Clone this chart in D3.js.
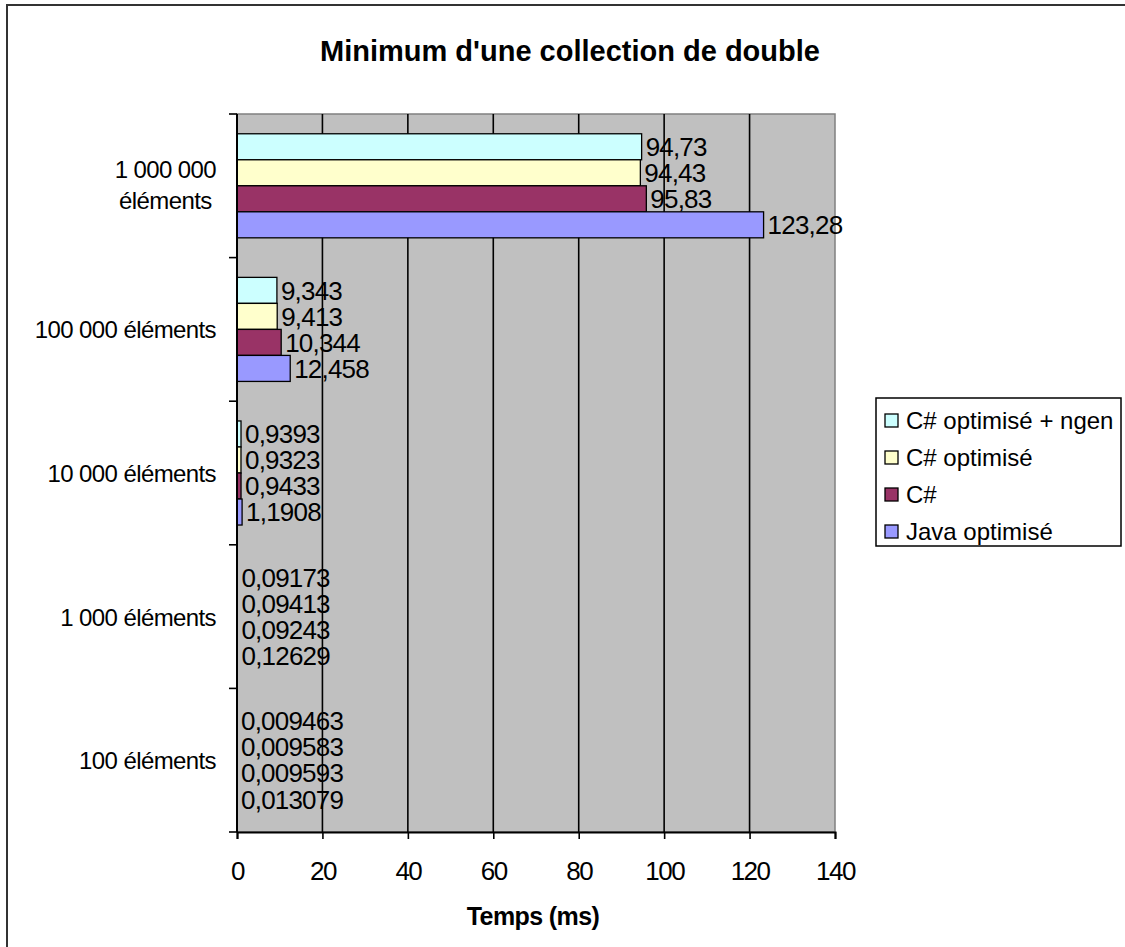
<!DOCTYPE html>
<html>
<head>
<meta charset="utf-8">
<script src="https://cdn.jsdelivr.net/npm/d3@7"></script>
<style>
  html, body { margin: 0; padding: 0; background: #fff; }
  svg { display: block; }
  text { font-family: "Liberation Sans", Arial, sans-serif; fill: #000; }
</style>
</head>
<body>
<svg id="chart" width="1125" height="947"></svg>
<script>
// ---- data ----
const categories = [
  ["1 000 000", "éléments"],
  ["100 000 éléments"],
  ["10 000 éléments"],
  ["1 000 éléments"],
  ["100 éléments"]
];
const seriesNames = ["C# optimisé + ngen", "C# optimisé", "C#", "Java optimisé"];
const seriesColors = ["#ccffff", "#ffffcc", "#993366", "#9999ff"];
const ngenValues   = [94.73, 9.343, 0.9393, 0.09173, 0.009463];
const optValues    = [94.43, 9.413, 0.9323, 0.09413, 0.009583];
const csValues     = [95.83, 10.344, 0.9433, 0.09243, 0.009593];
const javaValues   = [123.28, 12.458, 1.1908, 0.12629, 0.013079];
const valueLabels = [
  ["94,73", "9,343", "0,9393", "0,09173", "0,009463"],
  ["94,43", "9,413", "0,9323", "0,09413", "0,009583"],
  ["95,83", "10,344", "0,9433", "0,09243", "0,009593"],
  ["123,28", "12,458", "1,1908", "0,12629", "0,013079"]
];
const xTicks = [0, 20, 40, 60, 80, 100, 120, 140];
const title = "Minimum d'une collection de double";
const xTitle = "Temps (ms)";

const seriesValues = [ngenValues, optValues, csValues, javaValues];

// ---- layout ----
const svg = d3.select("#chart");
const plot = { left: 237, right: 835, top: 114, bottom: 832 };

// outer frame
svg.append("rect")
  .attr("x", 7).attr("y", 5).attr("width", 1140).attr("height", 960)
  .attr("fill", "#fff").attr("stroke", "#333").attr("stroke-width", 2);

const x = d3.scaleLinear().domain([0, 140]).range([plot.left, plot.right]);
const y = d3.scaleBand().domain(d3.range(categories.length))
  .range([plot.top, plot.bottom]).padding(0);
const ys = d3.scaleBand().domain(d3.range(seriesNames.length))
  .range([0, y.bandwidth()]).paddingInner(0).paddingOuter(0.76);

// plot background
svg.append("rect")
  .attr("x", plot.left).attr("y", plot.top)
  .attr("width", plot.right - plot.left).attr("height", plot.bottom - plot.top)
  .attr("fill", "#c0c0c0").attr("stroke", "#808080").attr("stroke-width", 1.5);

// gridlines
svg.append("g").selectAll("line")
  .data(xTicks.filter(t => t > 0 && t < 140))
  .join("line")
  .attr("x1", d => x(d)).attr("x2", d => x(d))
  .attr("y1", plot.top).attr("y2", plot.bottom)
  .attr("stroke", "#000").attr("stroke-width", 1.6);

// bars
const groups = svg.append("g").selectAll("g")
  .data(d3.range(categories.length))
  .join("g")
  .attr("transform", i => `translate(0,${y(i)})`);

groups.each(function(ci) {
  const g = d3.select(this);
  seriesValues.forEach((vals, si) => {
    const w = x(vals[ci]) - x(0);
    g.append("rect")
      .attr("x", x(0)).attr("y", ys(si))
      .attr("width", w).attr("height", ys.bandwidth())
      .attr("fill", seriesColors[si])
      .attr("stroke", "#000").attr("stroke-width", w > 2 ? 1.3 : 0.8);
  });
});

// value labels
groups.each(function(ci) {
  const g = d3.select(this);
  seriesValues.forEach((vals, si) => {
    g.append("text")
      .attr("x", x(vals[ci]) + 4)
      .attr("y", ys(si) + ys.bandwidth() / 2 + 9.3)
      .attr("font-size", 26)
      .attr("letter-spacing", -0.8)
      .text(valueLabels[si][ci]);
  });
});

// x axis
const xAxis = d3.axisBottom(x).tickValues(xTicks).tickSize(7).tickPadding(0).tickFormat(d3.format("d"));
const xg = svg.append("g").attr("transform", `translate(0,${plot.bottom})`).call(xAxis);
xg.select(".domain").attr("stroke", "#000").attr("stroke-width", 2);
xg.selectAll(".tick line").attr("stroke", "#000").attr("stroke-width", 1.6);
xg.selectAll(".tick text")
  .attr("y", 48).attr("dy", 0)
  .attr("font-size", 26).attr("letter-spacing", -1.5)
  .attr("font-family", "Liberation Sans, Arial, sans-serif")
  .attr("fill", "#000");

// y axis (ticks at band boundaries)
const yEdges = d3.range(categories.length + 1).map(i => plot.top + i * y.step());
svg.append("line")
  .attr("x1", plot.left).attr("x2", plot.left)
  .attr("y1", plot.top).attr("y2", plot.bottom)
  .attr("stroke", "#000").attr("stroke-width", 2);
svg.append("g").selectAll("line").data(yEdges).join("line")
  .attr("x1", plot.left - 8).attr("x2", plot.left)
  .attr("y1", d => d).attr("y2", d => d)
  .attr("stroke", "#000").attr("stroke-width", 1.6);

// y category labels
categories.forEach((lines, i) => {
  const cy = y(i) + y.bandwidth() / 2;
  const lh = 31;
  const t = svg.append("text")
    .attr("font-size", 24).attr("letter-spacing", -0.6);
  if (lines.length === 1) {
    t.attr("text-anchor", "end").attr("x", 216).attr("y", cy + 9).text(lines[0]);
  } else {
    const tmp = svg.append("text").attr("font-size", 24).attr("letter-spacing", -0.6);
    let maxW = 0;
    lines.forEach(l => { tmp.text(l); maxW = Math.max(maxW, tmp.node().getComputedTextLength()); });
    tmp.remove();
    const cx = 216 - maxW / 2;
    t.attr("text-anchor", "middle");
    lines.forEach((l, k) => {
      t.append("tspan").attr("x", cx)
        .attr("y", cy + 9 + (k - (lines.length - 1) / 2) * lh - 1)
        .text(l);
    });
  }
});

// title
svg.append("text")
  .attr("x", 570).attr("y", 61)
  .attr("text-anchor", "middle")
  .attr("font-size", 29).attr("font-weight", "bold")
  .text(title);

// x title
svg.append("text")
  .attr("x", 533).attr("y", 925)
  .attr("text-anchor", "middle")
  .attr("font-size", 25).attr("font-weight", "bold").attr("letter-spacing", -0.6)
  .text(xTitle);

// legend
const legend = svg.append("g");
legend.append("rect")
  .attr("x", 876).attr("y", 398).attr("width", 245).attr("height", 148)
  .attr("fill", "#fff").attr("stroke", "#000").attr("stroke-width", 1.5);
seriesNames.forEach((name, i) => {
  const cy = 421 + i * 37;
  legend.append("rect")
    .attr("x", 885).attr("y", cy - 7).attr("width", 13).attr("height", 13)
    .attr("fill", seriesColors[i]).attr("stroke", "#000").attr("stroke-width", 1.3);
  legend.append("text")
    .attr("x", 906).attr("y", cy + 8)
    .attr("font-size", 24).attr("letter-spacing", 0)
    .text(name);
});
</script>
</body>
</html>
